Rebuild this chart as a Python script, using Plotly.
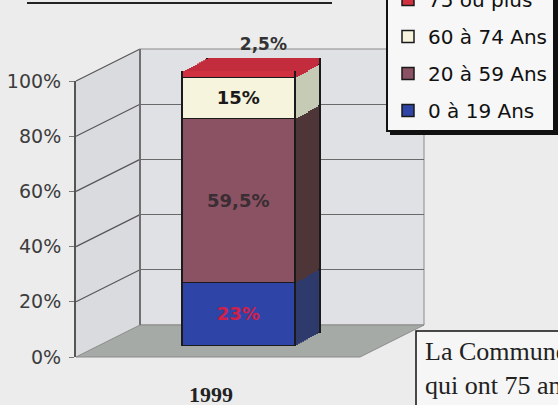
import plotly.graph_objects as go

# ---------------- data ----------------
categories = ["1999"]
series_names = ["0 à 19 Ans", "20 à 59 Ans", "60 à 74 Ans", "75 ou plus"]
values = [23, 59.5, 15, 2.5]
front_colors = ["#2e44a6", "#8b5263", "#f6f4dc", "#d0303f"]
side_colors = ["#2e3a6c", "#4e3537", "#c5cbb5", "#c22c3c"]
label_colors = ["#d0204a", "#3a2d33", "#1a1a1a", "#333333"]
y_ticks = [0, 20, 40, 60, 80, 100]
y_tick_text = ["0%", "20%", "40%", "60%", "80%", "100%"]

W, H = 558, 405


def fx(p):
    return p / W


def fy(p):
    return 1 - p / H


def fmt(v):
    return (f"{v:g}%").replace(".", ",")


# geometry of the 3-D box (pixels)
BAR_X0, BAR_X1 = 138.5, 338.5      # front-face category axis span
BAR_Y0, BAR_Y1 = 346, 71           # front-face 0 % and 100 %
DEPTH_X, DEPTH_Y = 25, -13         # extrusion of the bar
N_STEPS = 12

fig = go.Figure()
layout_axes = {}

# anchor traces for the front axis and the back wall grid
fig.add_trace(go.Scatter(x=categories, y=[None], xaxis="x", yaxis="y",
                         showlegend=False, hoverinfo="skip", mode="markers"))
fig.add_trace(go.Scatter(x=[0.5], y=[None], xaxis="x2", yaxis="y2",
                         showlegend=False, hoverinfo="skip", mode="markers"))

n = len(values)
ax_id = 3
# extruded copies, back-most first
for k in range(N_STEPS, 0, -1):
    t = k / N_STEPS
    dx, dy = DEPTH_X * t, DEPTH_Y * t
    xa, ya = f"x{ax_id}", f"y{ax_id}"
    layout_axes[f"xaxis{ax_id}"] = dict(domain=[fx(BAR_X0 + dx), fx(BAR_X1 + dx)], anchor=ya,
                                        type="category", range=[-0.5, 0.5], visible=False)
    layout_axes[f"yaxis{ax_id}"] = dict(domain=[fy(BAR_Y0 + dy), fy(BAR_Y1 + dy)], anchor=xa,
                                        range=[0, 100], visible=False)
    back = k == N_STEPS
    for i, v in enumerate(values):
        is_top = i == n - 1
        fig.add_trace(go.Bar(
            x=categories, y=[v], xaxis=xa, yaxis=ya, width=0.565,
            marker=dict(color=side_colors[i],
                        line=dict(color="#1a1a1a" if back else side_colors[i],
                                  width=1.2 if back else 0)),
            showlegend=False, hoverinfo="skip",
            text=[fmt(v)] if (is_top and back) else None,
            textposition="outside" if (is_top and back) else "none",
            textfont=dict(family="DejaVu Sans", size=17, color=label_colors[i], weight="bold"),
            cliponaxis=False,
        ))
    ax_id += 1

# front faces
xa, ya = f"x{ax_id}", f"y{ax_id}"
layout_axes[f"xaxis{ax_id}"] = dict(domain=[fx(BAR_X0), fx(BAR_X1)], anchor=ya,
                                    type="category", range=[-0.5, 0.5], visible=False)
layout_axes[f"yaxis{ax_id}"] = dict(domain=[fy(BAR_Y0), fy(BAR_Y1)], anchor=xa,
                                    range=[0, 100], visible=False)
for i, (name, v) in enumerate(zip(series_names, values)):
    is_top = i == n - 1
    fig.add_trace(go.Bar(
        x=categories, y=[v], xaxis=xa, yaxis=ya, width=0.565, name=name,
        legendgroup=name, legendrank=100 + (n - i),
        marker=dict(color=front_colors[i], line=dict(color="#1a1a1a", width=1.5)),
        text=None if is_top else [fmt(v)],
        textposition="none" if is_top else "inside",
        insidetextanchor="middle", textangle=0, constraintext="none",
        textfont=dict(family="DejaVu Sans", size=18, color=label_colors[i], weight="bold"),
    ))

shapes = []
# left wall
shapes.append(dict(type="path", xref="paper", yref="paper", layer="below",
                   path=f"M{fx(76)},{fy(357)} L{fx(76)},{fy(81)} L{fx(140)},{fy(49)} L{fx(140)},{fy(325)} Z",
                   fillcolor="#dadbdf", line=dict(width=0)))
# back wall
shapes.append(dict(type="rect", xref="paper", yref="paper", layer="below",
                   x0=fx(140), x1=fx(424), y0=fy(325), y1=fy(49),
                   fillcolor="#e0e1e4", line=dict(color="#8a8a8a", width=1)))
# floor
shapes.append(dict(type="path", xref="paper", yref="paper", layer="below",
                   path=f"M{fx(76)},{fy(357)} L{fx(140)},{fy(325)} L{fx(424)},{fy(325)} L{fx(360)},{fy(357)} Z",
                   fillcolor="#a6aaa6", line=dict(color="#8a8a8a", width=1)))
# left wall gridlines
ppv = (357 - 81) / 100.0
for v in y_ticks[1:]:
    shapes.append(dict(type="line", xref="paper", yref="paper", layer="below",
                       x0=fx(76), y0=fy(357 - v * ppv), x1=fx(140), y1=fy(325 - v * ppv),
                       line=dict(color="#555555", width=1.2)))
# back-left vertical edge
shapes.append(dict(type="line", xref="paper", yref="paper", layer="below",
                   x0=fx(140), x1=fx(140), y0=fy(325), y1=fy(49),
                   line=dict(color="#707070", width=2)))
# top underline (cut title)
shapes.append(dict(type="line", xref="paper", yref="paper",
                   x0=fx(27), x1=fx(332), y0=fy(3), y1=fy(3),
                   line=dict(color="#222222", width=2)))
# legend shadow
shapes.append(dict(type="rect", xref="paper", yref="paper",
                   x0=fx(390), x1=fx(565), y0=fy(135), y1=fy(-20),
                   fillcolor="#111111", line=dict(width=0)))
# text box bottom right
shapes.append(dict(type="rect", xref="paper", yref="paper",
                   x0=fx(416), x1=fx(570), y0=fy(410), y1=fy(331),
                   fillcolor="#f6f6f6", line=dict(color="#111111", width=1.5)))

annotations = [
    dict(xref="paper", yref="paper", x=fx(423), y=fy(335), xanchor="left", yanchor="top",
         text="La Commune<br>qui ont 75 ans", align="left", showarrow=False,
         font=dict(family="Liberation Serif", size=26, color="#222222")),
]

fig.update_layout(
    width=W, height=H,
    margin=dict(l=0, r=0, t=0, b=0, autoexpand=False),
    paper_bgcolor="#ececec", plot_bgcolor="rgba(0,0,0,0)",
    barmode="stack", bargap=0,
    showlegend=True,
    legend=dict(x=fx(386), y=fy(132), xanchor="left", yanchor="bottom",
                bgcolor="#f7f7f7", bordercolor="#111111", borderwidth=2,
                traceorder="grouped", tracegroupgap=8,
                font=dict(family="DejaVu Sans", size=20, color="#111111")),
    xaxis=dict(domain=[fx(76), fx(360)], anchor="y", type="category",
               range=[-0.4524, 0.5], showgrid=False, showline=False, ticks="",
               zeroline=False, ticklabelstandoff=22,
               tickfont=dict(family="Liberation Serif", size=22, color="#222222", weight="bold")),
    yaxis=dict(domain=[fy(357), fy(81)], anchor="x", range=[0, 100],
               tickmode="array", tickvals=y_ticks, ticktext=y_tick_text,
               showgrid=False, zeroline=False,
               showline=True, linecolor="#555555", linewidth=2,
               ticks="outside", ticklen=5, tickcolor="#777777", ticklabelstandoff=4,
               tickfont=dict(family="DejaVu Sans", size=19, color="#3c3c3c")),
    xaxis2=dict(domain=[fx(140), fx(424)], anchor="y2", range=[0, 1], visible=False),
    yaxis2=dict(domain=[fy(325), fy(49)], anchor="x2", range=[0, 100],
                tickvals=y_ticks, showgrid=True, gridcolor="#6a6a6a", gridwidth=1.2,
                showticklabels=False, ticks="", zeroline=False, showline=False),
    shapes=shapes,
    annotations=annotations,
    **layout_axes,
)

fig.write_html(
    "out.html",
    config={"displayModeBar": False},
    post_script="document.body.style.margin='0';document.body.style.overflow='hidden';"
                "document.body.style.background='#ececec';",
)
